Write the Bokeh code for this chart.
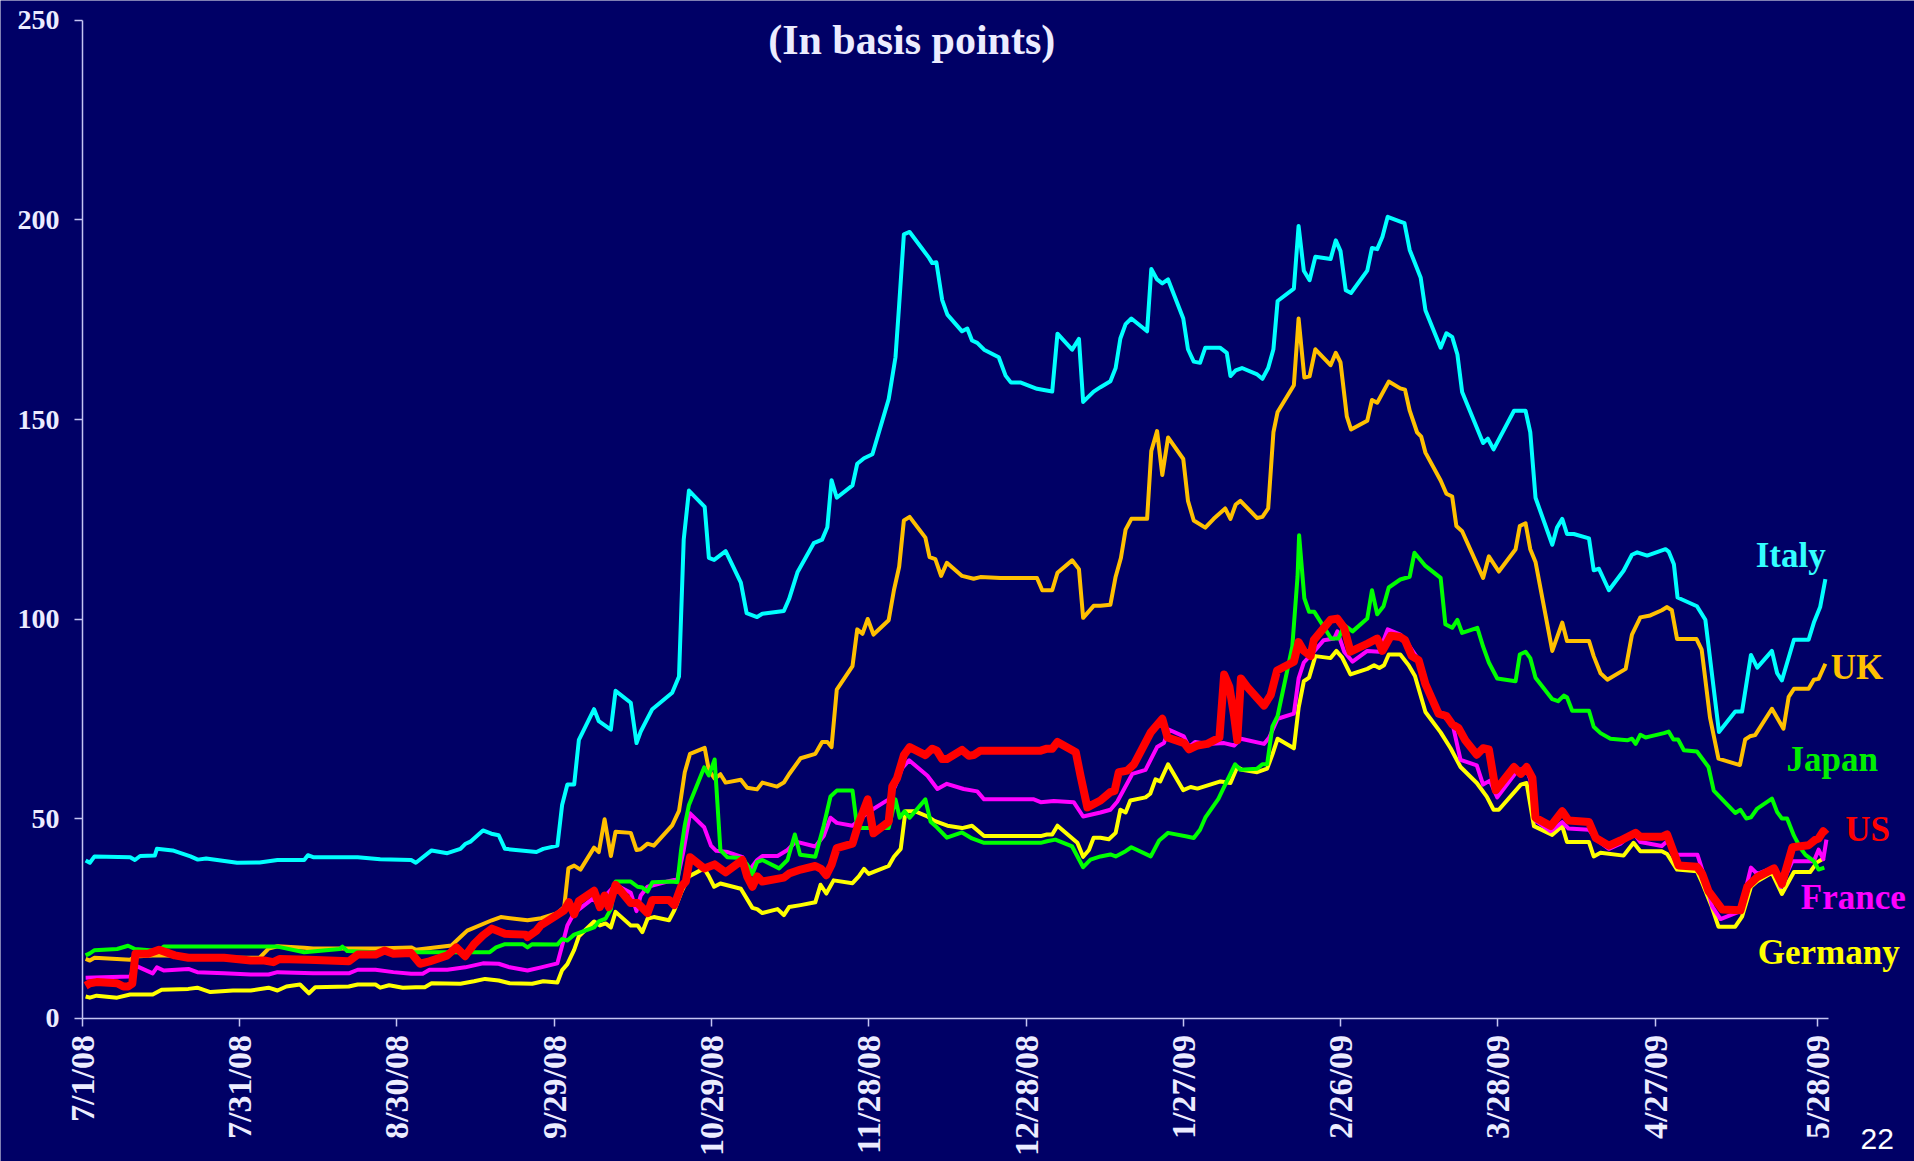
import math
from bokeh.plotting import figure
from bokeh.models import FixedTicker, Label, Range1d
from bokeh.embed import file_html
from bokeh.resources import INLINE

# x = days since 7/1/08
tick_days = [0, 30, 60, 90, 120, 150, 180, 210, 240, 270, 300, 331]
tick_labels = ["7/1/08", "7/31/08", "8/30/08", "9/29/08", "10/29/08", "11/28/08",
               "12/28/08", "1/27/09", "2/26/09", "3/28/09", "4/27/09", "5/28/09"]
y_ticks = [0, 50, 100, 150, 200, 250]

italy_days = [0.6, 1.4, 2.3, 9.1, 10.0, 11.0, 13.8, 14.2, 17.2, 20.6, 22.0, 23.6, 29.5, 33.8, 37.2, 42.3, 43.0, 44.0, 52.5, 56.8,
              62.7, 63.6, 66.6, 69.6, 72.1, 73.0, 74.0, 76.4, 78.0, 79.4, 80.6, 86.6, 87.9, 90.6, 91.5, 92.5, 93.8, 94.7, 97.6, 98.5,
              100.8, 101.7, 104.6, 105.7, 106.5, 108.7, 112.5, 113.8, 114.7, 115.7, 118.7, 119.5, 120.5, 122.7, 125.6, 126.7, 128.7, 129.7, 133.8, 134.8,
              136.4, 139.5, 141.1, 142.1, 142.9, 143.9, 146.9, 147.8, 149.1, 150.7, 153.8, 155.1, 155.8, 156.7, 157.8, 161.5, 162.1, 162.9, 164.0, 165.0,
              167.8, 168.8, 169.7, 170.7, 172.0, 174.8, 176.1, 177.1, 178.9, 182.1, 183.4, 185.0, 186.0, 188.8, 190.1, 190.9, 192.9, 194.2, 196.1, 197.1,
              198.0, 199.0, 200.1, 203.1, 203.9, 205.0, 206.0, 207.1, 210.0, 210.9, 212.0, 213.2, 214.2, 217.0, 218.3, 219.0, 220.0, 221.2, 224.1, 225.1,
              226.2, 227.2, 228.0, 231.1, 232.0, 233.0, 234.1, 235.2, 238.1, 239.1, 240.0, 241.0, 242.0, 245.1, 246.0, 247.0, 248.0, 249.0, 251.4, 252.2,
              253.2, 255.3, 256.2, 259.1, 260.2, 261.3, 262.3, 263.2, 267.2, 268.1, 269.2, 273.1, 275.3, 276.2, 277.2, 280.4, 281.3, 282.3, 283.2, 284.5,
              287.4, 288.3, 289.3, 291.2, 294.0, 295.6, 296.6, 298.5, 302.0, 302.6, 303.6, 304.3, 308.0, 309.6, 312.2, 315.3, 316.6, 318.3, 319.5, 322.3,
              323.3, 324.2, 326.5, 329.3, 330.3, 331.5, 332.5]
italy_vals = [39.5, 38.9, 40.5, 40.3, 39.6, 40.6, 40.7, 42.4, 42.0, 40.5, 39.7, 40.0, 38.9, 39.0, 39.6, 39.6, 40.8, 40.3, 40.3, 39.8,
              39.6, 38.9, 42.0, 41.3, 42.4, 43.6, 44.2, 47.0, 46.2, 45.8, 42.4, 41.6, 42.4, 43.2, 53.4, 58.5, 58.5, 69.7, 77.4, 74.4,
              72.3, 82.0, 79.0, 68.9, 71.8, 77.4, 81.5, 85.6, 119.9, 132.2, 128.1, 115.3, 114.8, 117.0, 109.1, 101.5, 100.5, 101.3, 102.0, 105.0,
              111.7, 119.0, 119.9, 123.0, 134.8, 130.4, 133.5, 138.9, 140.3, 141.3, 155.1, 165.6, 178.7, 196.4, 197.0, 190.5, 189.2, 189.4, 180.0, 176.3,
              172.1, 172.8, 169.8, 169.2, 167.5, 165.6, 161.0, 159.3, 159.3, 157.7, 157.4, 157.0, 171.5, 167.5, 170.2, 154.4, 157.0, 158.1, 159.6, 162.9,
              170.3, 173.9, 175.3, 172.1, 187.7, 185.1, 184.1, 185.1, 175.3, 167.6, 164.5, 164.2, 168.0, 168.0, 166.7, 160.9, 162.3, 162.9, 161.3, 160.2,
              162.9, 167.6, 179.7, 182.8, 198.5, 187.3, 184.9, 190.8, 190.2, 194.9, 192.2, 182.4, 181.7, 187.3, 193.0, 192.7, 195.8, 200.8, 199.6, 199.2,
              192.5, 185.5, 177.4, 168.0, 171.6, 170.7, 166.3, 156.9, 144.1, 145.2, 142.5, 152.2, 152.2, 146.8, 130.4, 118.6, 122.9, 125.1, 121.3, 121.3,
              120.2, 112.2, 112.6, 107.2, 112.1, 116.1, 116.7, 115.9, 117.5, 116.9, 113.7, 105.4, 103.2, 99.8, 71.7, 76.8, 76.8, 91.0, 87.8, 92.0,
              86.4, 84.6, 94.8, 94.8, 99.1, 103.0, 110.0]

uk_days = [0.6, 1.4, 2.3, 9.1, 10.0, 14.2, 29.5, 33.8, 35.5, 37.2, 42.3, 44.0, 55.9, 62.7, 63.6, 70.4, 72.1, 73.4, 78.1, 79.8,
           84.9, 87.5, 90.6, 91.9, 92.7, 93.8, 95.0, 97.6, 98.5, 99.6, 100.8, 101.7, 104.6, 105.7, 106.5, 107.8, 109.0, 112.5, 113.8, 114.9,
           115.9, 118.7, 119.5, 120.6, 121.7, 122.7, 125.6, 126.8, 128.7, 129.7, 132.5, 133.8, 134.8, 137.0, 139.8, 141.1, 142.1, 142.9, 143.9, 146.9,
           147.8, 148.8, 149.8, 150.9, 153.8, 154.8, 155.8, 156.7, 157.8, 160.8, 161.6, 162.7, 163.8, 164.9, 167.8, 170.0, 171.3, 175.1, 182.1, 183.1,
           185.0, 186.0, 188.8, 190.1, 190.9, 192.9, 194.2, 196.1, 197.1, 198.1, 199.0, 200.1, 203.1, 203.9, 205.0, 206.0, 207.1, 210.0, 210.9, 212.0,
           214.2, 215.8, 218.0, 219.0, 220.0, 220.9, 224.1, 225.1, 226.2, 227.2, 228.0, 231.1, 232.0, 233.1, 234.1, 235.2, 238.1, 239.1, 240.0, 241.2,
           242.0, 245.1, 246.0, 247.0, 249.2, 251.4, 252.3, 253.2, 254.6, 255.4, 256.2, 259.1, 260.2, 261.3, 262.1, 263.2, 267.2, 268.3, 270.2, 273.4,
           274.2, 275.3, 276.2, 277.2, 280.4, 282.3, 283.2, 287.4, 288.3, 289.6, 290.9, 294.4, 295.6, 297.2, 299.1, 301.3, 302.3, 303.2, 304.2, 307.9,
           308.9, 310.5, 312.1, 316.2, 317.2, 318.1, 319.1, 322.3, 324.5, 325.5, 326.5, 329.3, 330.3, 331.2, 332.5]
uk_vals = [14.8, 14.4, 15.1, 14.6, 15.4, 15.7, 15.1, 15.1, 17.4, 18.0, 17.6, 17.4, 17.4, 17.7, 17.1, 18.2, 20.3, 21.9, 24.5, 25.3,
           24.5, 25.0, 26.3, 27.8, 37.5, 38.2, 37.2, 42.7, 41.6, 49.8, 40.6, 46.7, 46.4, 42.1, 42.3, 43.7, 43.2, 48.3, 51.9, 61.6,
           66.2, 67.7, 62.1, 60.0, 61.1, 59.0, 59.7, 57.7, 57.3, 59.0, 58.0, 59.0, 61.1, 65.1, 66.2, 69.2, 69.2, 67.9, 82.3, 88.2,
           97.4, 96.3, 100.0, 96.1, 99.7, 107.2, 113.1, 124.7, 125.6, 120.4, 115.5, 115.0, 110.8, 114.1, 110.8, 110.1, 110.5, 110.3, 110.3, 107.2,
           107.2, 111.6, 114.7, 112.5, 100.3, 103.3, 103.3, 103.6, 110.6, 115.3, 122.4, 125.1, 125.1, 142.1, 147.1, 136.1, 145.5, 140.1, 129.6, 124.7,
           122.9, 125.1, 127.7, 125.1, 128.7, 129.6, 125.3, 125.6, 127.7, 146.8, 151.9, 158.6, 175.3, 160.5, 160.8, 167.6, 163.6, 166.7, 164.3, 150.8,
           147.5, 149.7, 154.9, 154.2, 159.5, 157.8, 157.5, 152.2, 146.8, 145.7, 141.7, 134.7, 131.4, 130.7, 123.3, 122.0, 110.3, 115.7, 111.9, 117.5,
           123.3, 124.0, 117.5, 114.3, 92.0, 99.1, 94.5, 94.5, 90.7, 86.4, 84.8, 87.5, 96.1, 100.4, 100.9, 102.2, 103.0, 102.2, 95.0, 95.0,
           92.3, 75.2, 65.0, 63.4, 69.8, 70.6, 70.9, 77.5, 72.5, 80.5, 82.5, 82.5, 84.8, 85.0, 88.8]

japan_days = [0.6, 1.4, 2.3, 6.6, 8.7, 10.0, 13.4, 14.2, 15.5, 37.2, 42.3, 49.1, 49.6, 50.5, 55.9, 77.7, 78.9, 80.6, 84.0, 84.9,
              85.8, 90.6, 91.5, 92.5, 93.8, 97.6, 98.5, 99.8, 100.8, 101.7, 104.6, 105.9, 106.8, 107.8, 108.7, 112.5, 113.5, 114.2, 114.9, 115.7,
              118.6, 119.5, 120.6, 121.7, 123.0, 125.8, 126.8, 127.8, 128.7, 129.7, 132.9, 134.5, 135.9, 136.9, 139.8, 141.4, 142.7, 143.9, 146.9, 147.8,
              153.8, 155.1, 155.9, 156.8, 157.8, 160.8, 161.8, 163.0, 164.9, 167.8, 169.7, 172.0, 182.8, 184.0, 185.6, 188.8, 190.9, 192.3, 194.2, 196.1,
              197.1, 199.0, 200.1, 203.8, 205.4, 207.1, 210.7, 212.0, 213.2, 214.2, 216.7, 218.3, 219.9, 220.9, 224.1, 225.1, 226.0, 227.0, 228.0, 230.8,
              231.8, 232.1, 233.1, 234.0, 235.0, 238.2, 239.6, 240.7, 242.3, 245.1, 246.0, 247.0, 248.2, 249.2, 251.4, 253.2, 254.1, 256.2, 259.1, 260.0,
              261.3, 262.3, 263.2, 266.1, 267.2, 268.3, 269.9, 273.4, 274.2, 275.3, 276.2, 277.2, 280.4, 281.5, 282.6, 283.2, 284.2, 287.4, 288.3, 289.6,
              291.5, 294.7, 295.6, 296.3, 297.2, 298.2, 299.1, 301.7, 302.6, 303.5, 304.4, 305.5, 308.0, 310.2, 311.2, 315.3, 316.3, 317.4, 318.3, 319.5,
              322.3, 323.3, 324.2, 325.2, 326.5, 327.8, 328.7, 330.3, 331.2, 332.3]
japan_vals = [15.7, 16.2, 17.0, 17.3, 18.1, 17.3, 16.9, 16.5, 17.9, 17.9, 16.5, 17.3, 17.9, 16.8, 16.5, 16.5, 17.7, 18.5, 18.5, 17.7,
              18.5, 18.4, 19.8, 19.4, 20.9, 22.7, 24.2, 24.9, 27.3, 34.2, 34.2, 32.9, 32.7, 31.7, 34.0, 34.2, 34.0, 42.1, 48.3, 53.4,
              62.8, 60.8, 64.8, 42.1, 40.3, 40.1, 38.5, 36.0, 39.1, 39.6, 37.5, 39.6, 46.0, 40.9, 40.4, 48.2, 55.5, 57.0, 57.0, 47.6,
              47.6, 54.8, 50.2, 51.8, 50.2, 54.8, 49.2, 47.8, 45.2, 46.5, 45.0, 43.9, 43.9, 44.3, 44.7, 43.0, 37.8, 39.7, 40.5, 41.0,
              40.5, 41.8, 42.8, 40.5, 44.5, 46.4, 45.5, 45.1, 47.2, 50.2, 54.9, 59.3, 63.6, 62.2, 62.5, 63.6, 63.6, 73.0, 75.7, 93.1,
              110.6, 121.0, 105.2, 101.8, 101.8, 95.1, 95.1, 98.5, 96.9, 100.1, 107.2, 101.2, 103.2, 107.9, 109.9, 110.6, 116.6, 113.3, 110.3, 98.7,
              97.8, 99.8, 96.5, 97.8, 93.1, 89.1, 85.1, 84.4, 91.1, 91.8, 90.2, 85.3, 79.9, 79.4, 80.8, 80.4, 77.0, 77.0, 73.0, 71.4,
              70.0, 69.6, 70.0, 68.7, 71.0, 70.3, 70.6, 71.4, 71.8, 69.8, 69.8, 67.1, 66.8, 62.9, 57.0, 51.4, 52.2, 50.0, 50.3, 52.5,
              55.0, 51.6, 50.0, 50.0, 45.7, 42.5, 40.9, 39.3, 37.2, 37.7]

us_days = [0.6, 1.4, 2.7, 6.6, 7.8, 8.7, 9.5, 10.1, 12.5, 14.6, 17.6, 20.2, 27.0, 32.1, 34.7, 36.4, 37.6, 43.2, 50.8, 52.5,
           55.9, 57.6, 59.3, 62.7, 64.4, 66.2, 69.6, 71.3, 73.0, 74.7, 76.4, 78.1, 80.6, 84.5, 84.9, 86.6, 87.4, 89.9, 91.9, 92.8,
           93.8, 94.7, 97.6, 98.7, 99.6, 100.4, 101.7, 104.6, 105.9, 107.8, 108.7, 111.9, 112.9, 114.2, 115.1, 115.9, 118.6, 120.6, 122.7, 125.9,
           126.8, 127.8, 128.7, 129.7, 133.8, 134.8, 137.0, 139.8, 140.9, 141.9, 142.9, 143.9, 146.9, 148.1, 149.8, 150.9, 153.8, 154.5, 155.4, 156.7,
           157.8, 160.8, 162.1, 163.0, 164.0, 164.9, 167.8, 169.1, 170.0, 171.3, 182.8, 184.0, 185.0, 186.0, 189.5, 190.4, 191.7, 194.2, 196.1, 196.9,
           197.7, 199.3, 200.6, 203.8, 206.0, 207.0, 210.2, 211.1, 212.7, 214.6, 216.9, 217.8, 218.8, 219.7, 220.3, 221.0, 222.2, 225.4, 226.7, 227.9,
           231.1, 232.0, 233.0, 234.3, 234.9, 238.1, 239.4, 240.7, 241.9, 245.1, 247.0, 248.0, 249.6, 251.4, 252.3, 253.6, 254.9, 256.2, 258.7, 260.2,
           261.3, 262.5, 263.8, 266.0, 267.2, 268.3, 269.6, 273.1, 274.4, 275.5, 276.6, 277.2, 280.1, 282.3, 283.5, 287.4, 288.7, 291.2, 293.4, 296.3,
           297.2, 301.3, 302.3, 304.5, 308.0, 309.0, 310.2, 312.8, 316.3, 317.6, 319.5, 322.7, 324.2, 326.2, 329.3, 330.6, 331.2, 332.1, 332.7]
us_vals = [8.1, 8.7, 9.0, 8.7, 7.9, 7.9, 8.6, 16.1, 16.1, 17.1, 15.7, 15.1, 15.1, 14.4, 14.4, 14.0, 14.8, 14.6, 14.2, 15.9,
           15.9, 16.9, 16.1, 16.3, 13.6, 14.2, 15.7, 17.7, 15.5, 18.5, 20.7, 22.4, 21.1, 20.9, 20.3, 21.9, 23.2, 25.3, 27.0, 29.0,
           26.0, 29.3, 31.9, 27.8, 30.7, 27.8, 33.4, 28.8, 28.8, 26.3, 29.6, 29.6, 28.3, 32.9, 34.2, 40.3, 37.5, 38.5, 36.5, 39.6,
           35.5, 32.9, 35.5, 34.2, 35.2, 36.2, 37.2, 38.1, 37.4, 35.8, 38.4, 42.6, 43.7, 48.9, 54.8, 46.3, 49.2, 58.1, 60.1, 65.9,
           67.9, 65.9, 67.5, 67.0, 64.9, 64.9, 67.2, 65.7, 65.9, 67.0, 67.0, 67.5, 67.5, 69.2, 66.6, 60.7, 52.8, 54.5, 56.6, 56.9,
           61.6, 62.0, 63.6, 71.6, 75.0, 70.3, 68.9, 67.3, 68.3, 68.7, 70.3, 86.1, 83.0, 75.7, 69.6, 85.1, 83.0, 78.3, 81.0, 87.1,
           89.3, 94.2, 92.0, 90.7, 94.7, 99.8, 100.1, 97.8, 91.8, 93.8, 95.1, 92.0, 95.8, 95.5, 94.7, 90.7, 89.7, 83.7, 76.3, 75.7,
           73.6, 72.7, 69.6, 66.0, 67.6, 67.3, 57.1, 62.9, 61.2, 62.9, 60.2, 50.2, 48.1, 51.8, 49.5, 49.1, 45.1, 43.2, 44.5, 46.4,
           45.4, 45.4, 46.0, 38.2, 37.9, 36.1, 31.8, 27.2, 27.0, 32.9, 35.3, 37.5, 33.6, 42.8, 43.3, 44.7, 45.0, 46.8, 46.0]

france_days = [0.6, 9.1, 10.0, 13.4, 14.2, 15.5, 20.2, 21.9, 27.0, 32.1, 35.5, 37.2, 44.0, 50.8, 52.5, 55.9, 59.3, 62.7, 64.9, 66.2,
               69.6, 73.0, 76.4, 79.4, 81.5, 84.9, 87.5, 90.6, 91.5, 92.5, 93.8, 97.4, 98.7, 99.6, 101.7, 104.6, 105.7, 106.5, 107.8, 111.6,
               113.5, 114.7, 115.9, 118.6, 119.9, 120.9, 123.1, 125.9, 127.2, 128.7, 129.7, 132.6, 134.5, 136.1, 139.8, 141.4, 142.7, 143.9, 146.9, 149.8,
               153.8, 155.1, 156.4, 157.7, 161.2, 163.1, 164.9, 168.1, 170.7, 172.0, 181.5, 182.8, 185.3, 189.1, 190.9, 194.2, 196.1, 197.4, 200.3, 202.8,
               205.0, 206.3, 207.2, 210.1, 211.1, 212.3, 214.6, 217.8, 219.7, 221.0, 225.4, 226.4, 228.0, 231.1, 232.0, 233.0, 234.9, 236.8, 238.8, 239.4,
               240.7, 242.3, 245.1, 247.4, 249.0, 251.4, 253.2, 254.6, 255.9, 258.7, 260.2, 261.3, 262.9, 266.0, 267.2, 268.5, 269.9, 273.5, 275.3, 276.2,
               277.2, 280.1, 282.3, 283.5, 287.4, 288.7, 291.2, 293.4, 295.9, 297.2, 301.3, 302.3, 304.2, 308.1, 309.0, 310.9, 312.5, 316.3, 318.3, 319.5,
               322.7, 324.0, 326.2, 330.3, 331.2, 332.1, 332.7]
france_vals = [10.1, 10.4, 13.2, 11.2, 12.7, 11.9, 12.3, 11.5, 11.2, 10.9, 10.9, 11.5, 11.2, 11.2, 12.1, 12.1, 11.5, 11.1, 11.1, 12.1,
               12.1, 12.7, 13.7, 13.6, 12.7, 11.9, 12.7, 13.7, 18.1, 23.2, 26.3, 30.0, 27.8, 30.4, 33.4, 31.4, 26.8, 30.7, 32.9, 34.2,
               34.8, 42.1, 51.3, 47.8, 43.2, 41.9, 41.6, 40.3, 37.0, 39.6, 40.6, 40.6, 42.1, 44.2, 43.0, 45.6, 50.2, 48.9, 48.2, 51.5,
               54.8, 58.3, 62.7, 64.6, 60.7, 57.4, 58.7, 57.4, 56.8, 54.8, 54.8, 54.1, 54.4, 54.1, 50.5, 51.5, 52.2, 54.2, 61.2, 62.2,
               67.9, 68.9, 72.3, 70.6, 67.9, 69.2, 68.7, 68.9, 68.3, 70.0, 68.7, 70.3, 75.0, 76.3, 85.1, 89.1, 91.8, 94.7, 95.1, 96.9,
               91.8, 89.3, 92.0, 91.8, 97.4, 96.1, 93.1, 90.4, 83.7, 77.0, 75.0, 74.1, 64.7, 63.3, 58.5, 59.5, 55.3, 61.6, 62.9, 59.8,
               49.5, 46.8, 49.1, 47.5, 47.2, 44.8, 42.4, 43.7, 46.5, 44.1, 43.1, 44.3, 40.9, 40.9, 37.2, 28.0, 24.8, 26.8, 37.7, 36.1,
               37.7, 32.9, 39.3, 39.3, 42.2, 39.8, 44.7]

germany_days = [0.6, 1.4, 2.7, 6.6, 9.1, 13.4, 15.1, 20.2, 21.9, 24.4, 28.7, 32.1, 35.5, 37.2, 38.9, 41.5, 43.2, 44.4, 50.8, 52.5,
                55.9, 56.8, 58.5, 61.1, 63.6, 65.3, 66.6, 72.1, 74.7, 76.8, 79.4, 81.5, 85.8, 87.9, 90.6, 91.5, 92.5, 93.8, 94.7, 97.6,
                98.7, 99.8, 100.8, 101.7, 104.6, 105.9, 106.8, 107.8, 109.0, 111.9, 112.9, 114.2, 115.7, 118.6, 119.5, 120.5, 121.7, 125.6, 127.8, 128.7,
                129.7, 132.6, 133.8, 134.8, 137.0, 139.8, 140.8, 141.9, 143.3, 146.9, 148.1, 149.1, 150.0, 151.3, 153.8, 154.8, 156.1, 157.0, 158.9, 161.2,
                162.4, 165.0, 167.8, 169.7, 172.0, 182.8, 184.0, 185.0, 186.0, 189.8, 190.9, 192.0, 192.9, 194.2, 195.8, 197.1, 198.0, 199.0, 199.9, 202.8,
                203.7, 204.7, 205.6, 207.1, 210.0, 211.4, 212.7, 217.1, 219.0, 220.3, 221.2, 224.1, 226.0, 227.0, 228.0, 231.1, 232.0, 233.0, 234.0, 235.2,
                238.1, 239.2, 240.3, 241.9, 245.1, 246.4, 247.4, 248.3, 249.2, 251.4, 253.0, 254.2, 256.2, 259.1, 261.0, 262.9, 266.0, 267.9, 269.2, 270.2,
                274.4, 275.5, 276.9, 280.4, 282.3, 283.2, 287.4, 288.3, 289.6, 294.0, 295.9, 297.2, 301.3, 302.3, 304.2, 308.0, 309.0, 310.8, 312.1, 315.3,
                316.6, 318.3, 319.5, 322.3, 324.2, 326.5, 329.6, 330.9, 332.3]
germany_vals = [5.4, 5.1, 5.6, 5.1, 5.9, 5.9, 7.1, 7.3, 7.6, 6.5, 6.9, 6.9, 7.6, 6.9, 7.9, 8.4, 6.2, 7.7, 7.9, 8.4,
                8.4, 7.6, 8.2, 7.6, 7.7, 7.7, 8.7, 8.6, 9.2, 9.8, 9.4, 8.7, 8.6, 9.2, 8.9, 12.0, 13.5, 17.1, 20.5, 24.2,
                23.2, 23.7, 22.7, 26.6, 23.2, 23.2, 21.5, 24.9, 25.3, 24.5, 27.0, 31.4, 35.5, 37.5, 35.5, 32.9, 33.7, 32.4, 27.6, 27.3,
                26.3, 27.3, 25.8, 27.8, 28.3, 29.0, 33.4, 31.2, 34.5, 33.8, 35.5, 37.4, 36.1, 36.8, 38.1, 40.4, 42.4, 51.8, 51.8, 50.5,
                49.5, 48.2, 47.6, 48.2, 45.6, 45.6, 46.0, 46.0, 48.2, 43.9, 40.4, 42.1, 45.2, 45.2, 44.8, 46.4, 52.2, 51.5, 54.5, 55.3,
                56.2, 59.8, 59.3, 63.6, 57.1, 57.9, 57.5, 59.3, 58.9, 62.9, 62.2, 61.6, 62.5, 66.0, 70.0, 67.6, 77.7, 84.4, 85.3, 90.7,
                90.2, 92.0, 90.4, 86.1, 87.5, 88.4, 87.7, 88.4, 91.1, 91.1, 88.4, 85.7, 76.7, 71.6, 67.6, 62.9, 58.9, 55.5, 52.2, 52.2,
                58.5, 58.9, 48.1, 45.9, 48.1, 44.1, 44.1, 40.5, 41.4, 40.7, 43.9, 41.8, 41.8, 41.1, 37.2, 36.8, 33.9, 28.0, 22.9, 22.9,
                25.4, 32.9, 34.3, 36.4, 31.1, 36.6, 36.6, 39.0, 40.1]

BG = "#000066"
AXIS = "#C4C4F2"
TXT = "#ECECFF"
SERIF = "Liberation Serif"

# the frame fills the whole canvas so no text is clipped;
# both axes are pinned to the data origin and limited to the data window
p = figure(width=1914, height=1161, x_range=Range1d(-15.64, 349.5), y_range=Range1d(-35.96, 255.01),
           output_backend="svg", toolbar_location=None,
           background_fill_color=BG, border_fill_color=BG,
           min_border_left=0, min_border_right=0, min_border_top=0, min_border_bottom=0)
p.outline_line_color = None
p.grid.visible = False

for ax in (p.xaxis, p.yaxis):
    ax.axis_line_color = AXIS
    ax.axis_line_width = 1.5
    ax.major_tick_line_color = AXIS
    ax.major_tick_line_width = 1.5
    ax.major_tick_out = 8
    ax.major_tick_in = 0
    ax.minor_tick_line_color = None
    ax.major_label_text_color = TXT
    ax.major_label_text_font = SERIF
    ax.major_label_text_font_style = "bold"

p.yaxis.ticker = FixedTicker(ticks=y_ticks)
p.yaxis.bounds = (0, 250)
p.yaxis.fixed_location = 0
p.yaxis.major_label_text_font_size = "28px"
p.yaxis.major_label_standoff = 15

p.xaxis.ticker = FixedTicker(ticks=tick_days)
p.xaxis.bounds = (0, 333)
p.xaxis.fixed_location = 0
p.xaxis.major_label_overrides = {d: s for d, s in zip(tick_days, tick_labels)}
p.xaxis.major_label_orientation = math.pi / 2
p.xaxis.major_label_text_font_size = "34px"
p.xaxis.major_label_standoff = 9

series = [
    (italy_days, italy_vals, "#00FFFF", 4),
    (uk_days, uk_vals, "#FFC000", 4),
    (germany_days, germany_vals, "#FFFF00", 4),
    (france_days, france_vals, "#FF00FF", 4),
    (japan_days, japan_vals, "#00FF00", 4),
    (us_days, us_vals, "#FF0000", 8),
]
for xs, ys, col, w in series:
    p.line(xs, ys, line_color=col, line_width=w, line_join="round")

labels = [
    ("Italy", 319.2, 115.9, "#33FFFF"),
    ("UK", 333.5, 87.8, "#FFC000"),
    ("Japan", 325.1, 64.7, "#00EE00"),
    ("US", 336.3, 47.2, "#FF0000"),
    ("France", 327.8, 30.1, "#FF00FF"),
    ("Germany", 319.6, 16.4, "#FFFF00"),
]
for txt, x, y, col in labels:
    p.add_layout(Label(x=x, y=y, text=txt, text_color=col, text_font=SERIF,
                       text_font_style="bold", text_font_size="35px",
                       text_align="left", text_baseline="alphabetic"))

p.add_layout(Label(x=158.2, y=245.2, text="(In basis points)", text_color=TXT, text_font=SERIF,
                   text_font_style="bold", text_font_size="42px",
                   text_align="center", text_baseline="alphabetic"))
p.add_layout(Label(x=339.2, y=-30.2, text="22", text_color="#FFFFFF", text_font="Liberation Sans",
                   text_font_size="30px", text_align="left", text_baseline="alphabetic"))

html = file_html(p, INLINE)
html = html.replace("<body>", '<body style="background-color:#000066;">', 1)
open("out.html", "w").write(html)
